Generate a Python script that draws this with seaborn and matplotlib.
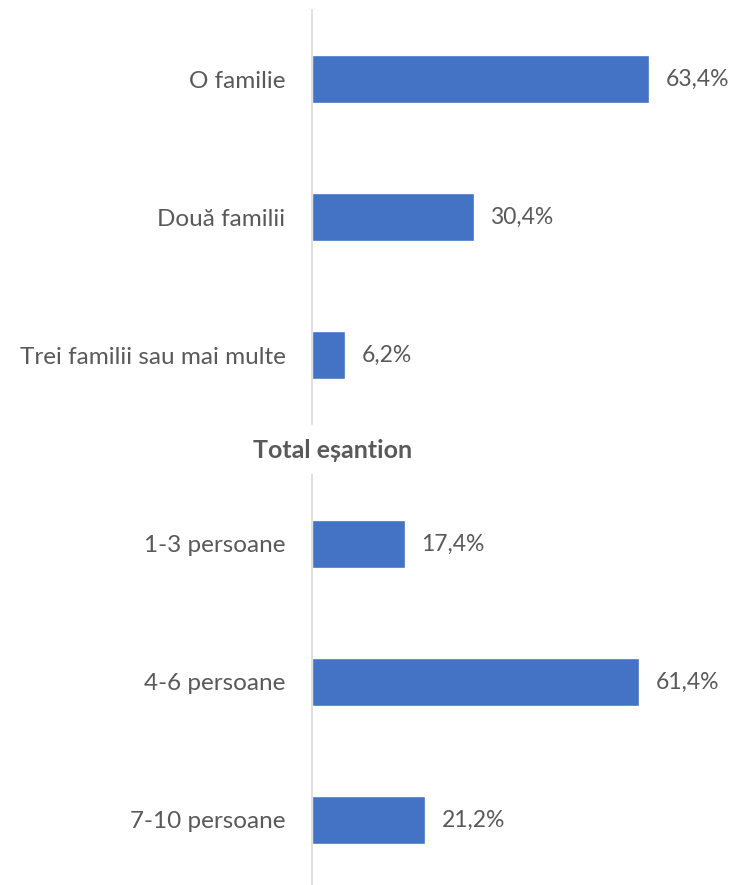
import matplotlib
matplotlib.use("Agg")
import matplotlib.pyplot as plt
import seaborn as sns
import pandas as pd

sns.set_theme(style="white")
plt.rcParams['font.family'] = ['Lato', 'DejaVu Sans']

families_labels = ["O familie", "Două familii", "Trei familii sau mai multe"]
families_values = [63.4, 30.4, 6.2]
persons_labels = ["1-3 persoane", "4-6 persoane", "7-10 persoane"]
persons_values = [17.4, 61.4, 21.2]
section_title = "Total eșantion"

BAR = "#4472C4"
TXT = "#595959"
AX = "#D9D9D9"

W, H = 736, 885
fig = plt.figure(figsize=(W / 100, H / 100), dpi=100)

left = 312 / W
width = 424 / W
xmax = 424 / 5.32

ax1 = fig.add_axes([left, (H - 424) / H, width, 414 / H])
ax2 = fig.add_axes([left, (H - 889) / H, width, 414 / H])


def draw(ax, labels, values):
    df = pd.DataFrame({"cat": labels, "val": values})
    sns.barplot(data=df, y="cat", x="val", orient="h", color=BAR, width=0.355,
                saturation=1, ax=ax)
    ax.set_xlim(0, xmax)
    ax.set_ylim(2.5, -0.5)
    ax.set_xlabel("")
    ax.set_ylabel("")
    ax.set_xticks([])
    for s in ["top", "right", "bottom"]:
        ax.spines[s].set_visible(False)
    ax.spines["left"].set_color(AX)
    ax.spines["left"].set_linewidth(1.2)
    ax.tick_params(axis="y", length=0, pad=19, labelsize=17.5, labelcolor=TXT)
    for c in ax.containers:
        ax.bar_label(c, labels=[f"{v:.1f}%".replace(".", ",") for v in c.datavalues],
                     padding=12, fontsize=16.5, color=TXT)
    ax.patch.set_alpha(0)


draw(ax1, families_labels, families_values)
draw(ax2, persons_labels, persons_values)

fig.text(333 / W, 1 - 450 / H, section_title, ha="center", va="center",
         fontsize=18, fontweight="bold", color=TXT)

fig.savefig("out.png", dpi=100)
